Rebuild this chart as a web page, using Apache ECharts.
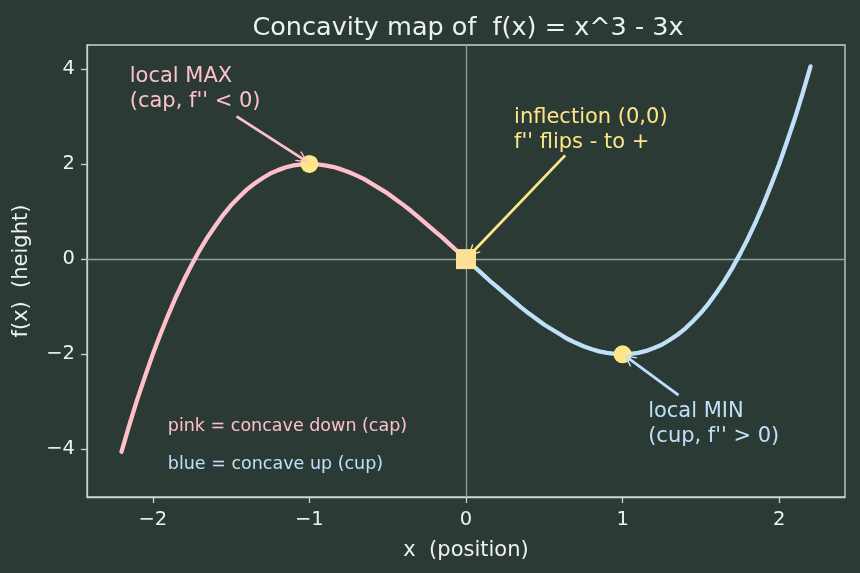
<!DOCTYPE html>
<html>
<head>
<meta charset="utf-8">
<script src="https://cdn.jsdelivr.net/npm/echarts@6/dist/echarts.min.js"></script>
<style>
  html, body { margin: 0; padding: 0; background: #2b3a34; }
  #chart { width: 860px; height: 573px; }
</style>
</head>
<body>
<div id="chart"></div>
<script>
// points (x, f(x))
var capPoints = [
  [-2.2, -4.05], [-2.15, -3.49], [-2.1, -2.96], [-2.05, -2.47], [-2.0, -2.0],
  [-1.95, -1.57], [-1.9, -1.16], [-1.85, -0.78], [-1.8, -0.43], [-1.75, -0.11],
  [-1.7, 0.19], [-1.65, 0.46], [-1.6, 0.70], [-1.55, 0.93], [-1.5, 1.13],
  [-1.45, 1.30], [-1.4, 1.46], [-1.35, 1.59], [-1.3, 1.70], [-1.25, 1.80],
  [-1.2, 1.87], [-1.15, 1.93], [-1.1, 1.97], [-1.05, 1.99], [-1.0, 2.0],
  [-0.95, 1.99], [-0.9, 1.97], [-0.85, 1.94], [-0.8, 1.89], [-0.75, 1.83],
  [-0.7, 1.76], [-0.65, 1.68], [-0.6, 1.58], [-0.55, 1.48], [-0.5, 1.38],
  [-0.45, 1.26], [-0.4, 1.14], [-0.35, 1.01], [-0.3, 0.87], [-0.25, 0.73],
  [-0.2, 0.59], [-0.15, 0.45], [-0.1, 0.30], [-0.05, 0.15], [0.0, 0.0]
];
var cupPoints = [
  [0.0, 0.0], [0.05, -0.15], [0.1, -0.30], [0.15, -0.45], [0.2, -0.59],
  [0.25, -0.73], [0.3, -0.87], [0.35, -1.01], [0.4, -1.14], [0.45, -1.26],
  [0.5, -1.38], [0.55, -1.48], [0.6, -1.58], [0.65, -1.68], [0.7, -1.76],
  [0.75, -1.83], [0.8, -1.89], [0.85, -1.94], [0.9, -1.97], [0.95, -1.99],
  [1.0, -2.0], [1.05, -1.99], [1.1, -1.97], [1.15, -1.93], [1.2, -1.87],
  [1.25, -1.80], [1.3, -1.70], [1.35, -1.59], [1.4, -1.46], [1.45, -1.30],
  [1.5, -1.13], [1.55, -0.93], [1.6, -0.70], [1.65, -0.46], [1.7, -0.19],
  [1.75, 0.11], [1.8, 0.43], [1.85, 0.78], [1.9, 1.16], [1.95, 1.57],
  [2.0, 2.0], [2.05, 2.47], [2.1, 2.96], [2.15, 3.49], [2.2, 4.05]
];
var extremaPoints = [[-1, 2], [1, -2]];
var inflectionPoint = [[0, 0]];
var xTicks = [-2, -1, 0, 1, 2];
var yTicks = [-4, -2, 0, 2, 4];

var pink = '#ffc0cb';
var blue = '#bfe0f8';
var gold = '#fde68a';
var frame = '#c8d6cc';
var textColor = '#eef2ee';

function minus(v) { return String(v).replace('-', '\u2212'); }

// open chevron arrowhead like matplotlib's "->"
var chevron = 'path://M0,0 L6,10 L4.4,10 L0,2.6 L-4.4,10 L-6,10 Z';

function arrow(from, to, color) {
  return {
    type: 'lines',
    coordinateSystem: 'cartesian2d',
    symbol: ['none', chevron],
    symbolSize: [14, 12],
    silent: true,
    z: 4,
    lineStyle: { color: color, width: 2.8, opacity: 1 },
    data: [{ coords: [from, to] }]
  };
}

function note(pos, text, color, size, vAlign) {
  return {
    type: 'scatter',
    symbolSize: 0,
    silent: true,
    z: 5,
    data: [pos],
    itemStyle: { opacity: 1 },
    label: {
      show: true,
      position: [0, 0],
      align: 'left',
      verticalAlign: vAlign,
      formatter: text,
      color: color,
      opacity: 1,
      fontSize: size,
      lineHeight: Math.round(size * 1.2),
      fontFamily: 'DejaVu Sans'
    }
  };
}

var chart = echarts.init(document.getElementById('chart'));
var option = {
  backgroundColor: '#2b3a34',
  animation: false,
  textStyle: { fontFamily: 'DejaVu Sans' },
  title: {
    text: 'Concavity map of  f(x) = x^3 - 3x',
    left: 463,
    textAlign: 'center',
    top: 10,
    textStyle: { color: textColor, fontSize: 25.5, fontWeight: 'normal', fontFamily: 'DejaVu Sans' }
  },
  grid: {
    left: 87, right: 15, top: 45, bottom: 76,
    show: true, borderColor: frame, borderWidth: 1.3, backgroundColor: 'transparent'
  },
  xAxis: {
    type: 'value',
    min: -2.42, max: 2.42,
    name: 'x  (position)',
    nameLocation: 'middle',
    nameGap: 43,
    nameTextStyle: { color: textColor, fontSize: 21 },
    axisLine: { show: true, onZero: false, lineStyle: { color: frame, width: 1.3 } },
    axisTick: { show: true, length: 6, customValues: xTicks, lineStyle: { color: frame, width: 1.3 } },
    axisLabel: { customValues: xTicks, color: textColor, fontSize: 19.5, margin: 13, formatter: minus },
    splitLine: { show: false }
  },
  yAxis: {
    type: 'value',
    min: -5, max: 4.5,
    name: 'f(x)  (height)',
    nameLocation: 'middle',
    nameGap: 55,
    nameTextStyle: { color: textColor, fontSize: 21 },
    axisLine: { show: true, onZero: false, lineStyle: { color: frame, width: 1.3 } },
    axisTick: { show: true, length: 6, customValues: yTicks, lineStyle: { color: frame, width: 1.3 } },
    axisLabel: { customValues: yTicks, color: textColor, fontSize: 19.5, margin: 12, formatter: minus },
    splitLine: { show: false }
  },
  series: [
    {
      name: 'concave down',
      type: 'line',
      data: capPoints,
      smooth: false,
      showSymbol: false,
      z: 2,
      lineStyle: { color: pink, width: 4.3, join: 'round', cap: 'round' },
      markLine: {
        silent: true,
        symbol: 'none',
        label: { show: false },
        lineStyle: { color: '#8fa599', width: 1.3, type: 'solid' },
        data: [{ xAxis: 0 }, { yAxis: 0 }],
        z: 1
      }
    },
    {
      name: 'concave up',
      type: 'line',
      data: cupPoints,
      smooth: false,
      showSymbol: false,
      z: 2,
      lineStyle: { color: blue, width: 4.3, join: 'round', cap: 'round' }
    },
    {
      name: 'extrema',
      type: 'scatter',
      data: extremaPoints,
      symbol: 'circle',
      symbolSize: 18,
      z: 3,
      itemStyle: { color: gold, opacity: 1 }
    },
    {
      name: 'inflection',
      type: 'scatter',
      data: inflectionPoint,
      symbol: 'rect',
      symbolSize: 20,
      z: 3,
      itemStyle: { color: '#fddf98', opacity: 1 }
    },
    arrow([-1.465, 3.0], [-1.04, 2.1], pink),
    arrow([0.633, 2.18], [0.04, 0.14], gold),
    arrow([1.357, -2.86], [1.04, -2.09], blue),
    note([-2.147, 4.09], 'local MAX\n(cap, f\'\' < 0)', pink, 21, 'top'),
    note([0.307, 3.24], 'inflection (0,0)\nf\'\' flips - to +', gold, 21, 'top'),
    note([1.163, -2.94], 'local MIN\n(cup, f\'\' > 0)', blue, 21, 'top'),
    note([-1.904, -3.52], 'pink = concave down (cap)', pink, 17.5, 'middle'),
    note([-1.904, -4.32], 'blue = concave up (cup)', blue, 17.5, 'middle')
  ]
};
chart.setOption(option);
</script>
</body>
</html>
